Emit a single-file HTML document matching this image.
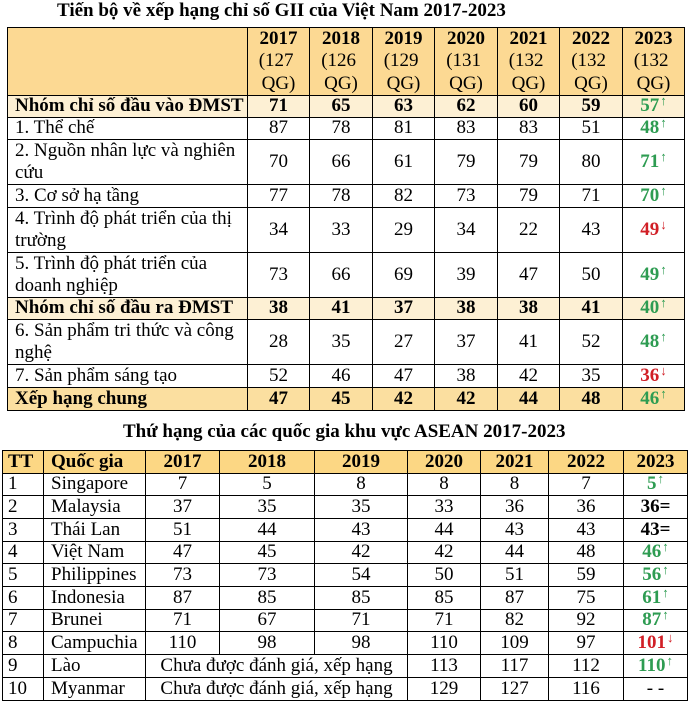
<!DOCTYPE html>
<html>
<head>
<meta charset="utf-8">
<style>
html,body{margin:0;padding:0;background:#fff;}
body{width:689px;height:704px;position:relative;overflow:hidden;font-family:"Liberation Serif","Times New Roman",serif;font-size:19px;color:#000;}
.t{position:absolute;font-weight:bold;white-space:nowrap;line-height:22px;}
.r{position:absolute;left:0;width:689px;}
.c{position:absolute;top:0;height:100%;box-sizing:border-box;border:1px solid #000;display:flex;align-items:center;justify-content:center;white-space:nowrap;line-height:22.5px;text-align:center;}
.l{justify-content:flex-start;text-align:left;padding-left:7px;}
.b{font-weight:bold;}
.h{background:#fcd993;}
.g1{background:#fdf0d4;}
.g2{background:#fbdfa0;}
.h2{background:#fcd784;}
.gr{color:#2e9c52;font-weight:bold;}
.rd{color:#d11f26;font-weight:bold;}
.ar{font-size:13px;font-weight:normal;position:relative;top:-5px;margin-left:1px;}
/* table 1 columns */
.a0{left:7px;width:241px;}
.a1{left:247px;width:63px;}
.a2{left:309px;width:64px;}
.a3{left:372px;width:63px;}
.a4{left:434px;width:64px;}
.a5{left:497px;width:63px;}
.a6{left:559px;width:64px;}
.a7{left:622px;width:63px;}
/* table 2 columns */
.b0{left:2px;width:42px;justify-content:flex-start;padding-left:5px;}
.b1{left:43px;width:103px;justify-content:flex-start;padding-left:7px;}
.b2{left:145px;width:75px;}
.b3{left:219px;width:96px;}
.b4{left:314px;width:94px;}
.b5{left:407px;width:74px;}
.b6{left:480px;width:69px;}
.b7{left:548px;width:76px;}
.b8{left:623px;width:65px;}
.bm{left:145px;width:263px;}
</style>
</head>
<body>

<div class="t" style="left:57px;top:0px;">Tiến bộ về xếp hạng chỉ số GII của Việt Nam 2017-2023</div>

<!-- Table 1 -->
<div class="r" style="top:27px;height:69px;">
  <div class="c a0 h"></div>
  <div class="c a1 h"><div><b>2017</b><br>(127&nbsp;<br>QG)</div></div>
  <div class="c a2 h"><div><b>2018</b><br>(126&nbsp;<br>QG)</div></div>
  <div class="c a3 h"><div><b>2019</b><br>(129&nbsp;<br>QG)</div></div>
  <div class="c a4 h"><div><b>2020</b><br>(131&nbsp;<br>QG)</div></div>
  <div class="c a5 h"><div><b>2021</b><br>(132&nbsp;<br>QG)</div></div>
  <div class="c a6 h"><div><b>2022</b><br>(132&nbsp;<br>QG)</div></div>
  <div class="c a7 h"><div><b>2023</b><br>(132&nbsp;<br>QG)</div></div>
</div>

<div class="r" style="top:95px;height:23px;">
  <div class="c a0 l g1 b">Nhóm chỉ số đầu vào ĐMST</div>
  <div class="c a1 g1 b">71</div><div class="c a2 g1 b">65</div><div class="c a3 g1 b">63</div><div class="c a4 g1 b">62</div><div class="c a5 g1 b">60</div><div class="c a6 g1 b">59</div>
  <div class="c a7 g1"><span class="gr">57</span><span class="ar" style="color:#2e9c52">↑</span></div>
</div>

<div class="r" style="top:117px;height:23px;">
  <div class="c a0 l">1. Thể chế</div>
  <div class="c a1">87</div><div class="c a2">78</div><div class="c a3">81</div><div class="c a4">83</div><div class="c a5">83</div><div class="c a6">51</div>
  <div class="c a7"><span class="gr">48</span><span class="ar" style="color:#2e9c52">↑</span></div>
</div>

<div class="r" style="top:139px;height:46px;">
  <div class="c a0 l"><div>2. Nguồn nhân lực và nghiên<br>cứu</div></div>
  <div class="c a1">70</div><div class="c a2">66</div><div class="c a3">61</div><div class="c a4">79</div><div class="c a5">79</div><div class="c a6">80</div>
  <div class="c a7"><span class="gr">71</span><span class="ar" style="color:#2e9c52">↑</span></div>
</div>

<div class="r" style="top:184px;height:24px;">
  <div class="c a0 l">3. Cơ sở hạ tầng</div>
  <div class="c a1">77</div><div class="c a2">78</div><div class="c a3">82</div><div class="c a4">73</div><div class="c a5">79</div><div class="c a6">71</div>
  <div class="c a7"><span class="gr">70</span><span class="ar" style="color:#2e9c52">↑</span></div>
</div>

<div class="r" style="top:207px;height:46px;">
  <div class="c a0 l"><div>4. Trình độ phát triển của thị<br>trường</div></div>
  <div class="c a1">34</div><div class="c a2">33</div><div class="c a3">29</div><div class="c a4">34</div><div class="c a5">22</div><div class="c a6">43</div>
  <div class="c a7"><span class="rd">49</span><span class="ar" style="color:#d11f26">↓</span></div>
</div>

<div class="r" style="top:252px;height:46px;">
  <div class="c a0 l"><div>5. Trình độ phát triển của<br>doanh nghiệp</div></div>
  <div class="c a1">73</div><div class="c a2">66</div><div class="c a3">69</div><div class="c a4">39</div><div class="c a5">47</div><div class="c a6">50</div>
  <div class="c a7"><span class="gr">49</span><span class="ar" style="color:#2e9c52">↑</span></div>
</div>

<div class="r" style="top:297px;height:23px;">
  <div class="c a0 l g1 b">Nhóm chỉ số đầu ra ĐMST</div>
  <div class="c a1 g1 b">38</div><div class="c a2 g1 b">41</div><div class="c a3 g1 b">37</div><div class="c a4 g1 b">38</div><div class="c a5 g1 b">38</div><div class="c a6 g1 b">41</div>
  <div class="c a7 g1"><span class="gr">40</span><span class="ar" style="color:#2e9c52">↑</span></div>
</div>

<div class="r" style="top:319px;height:46px;">
  <div class="c a0 l"><div>6. Sản phẩm tri thức và công<br>nghệ</div></div>
  <div class="c a1">28</div><div class="c a2">35</div><div class="c a3">27</div><div class="c a4">37</div><div class="c a5">41</div><div class="c a6">52</div>
  <div class="c a7"><span class="gr">48</span><span class="ar" style="color:#2e9c52">↑</span></div>
</div>

<div class="r" style="top:364px;height:24px;">
  <div class="c a0 l">7. Sản phẩm sáng tạo</div>
  <div class="c a1">52</div><div class="c a2">46</div><div class="c a3">47</div><div class="c a4">38</div><div class="c a5">42</div><div class="c a6">35</div>
  <div class="c a7"><span class="rd">36</span><span class="ar" style="color:#d11f26">↓</span></div>
</div>

<div class="r" style="top:387px;height:24px;">
  <div class="c a0 l g2 b">Xếp hạng chung</div>
  <div class="c a1 g2 b">47</div><div class="c a2 g2 b">45</div><div class="c a3 g2 b">42</div><div class="c a4 g2 b">42</div><div class="c a5 g2 b">44</div><div class="c a6 g2 b">48</div>
  <div class="c a7 g2"><span class="gr">46</span><span class="ar" style="color:#2e9c52">↑</span></div>
</div>

<div class="t" style="left:123px;top:421px;">Thứ hạng của các quốc gia khu vực ASEAN 2017-2023</div>

<!-- Table 2 -->
<div class="r" style="top:450px;height:24px;">
  <div class="c b0 h2 b">TT</div><div class="c b1 h2 b">Quốc gia</div>
  <div class="c b2 h2 b">2017</div><div class="c b3 h2 b">2018</div><div class="c b4 h2 b">2019</div><div class="c b5 h2 b">2020</div><div class="c b6 h2 b">2021</div><div class="c b7 h2 b">2022</div><div class="c b8 h2 b">2023</div>
</div>

<div class="r" style="top:473px;height:23px;">
  <div class="c b0">1</div><div class="c b1">Singapore</div>
  <div class="c b2">7</div><div class="c b3">5</div><div class="c b4">8</div><div class="c b5">8</div><div class="c b6">8</div><div class="c b7">7</div>
  <div class="c b8"><span class="gr">5</span><span class="ar" style="color:#2e9c52">↑</span></div>
</div>

<div class="r" style="top:495px;height:24px;">
  <div class="c b0">2</div><div class="c b1">Malaysia</div>
  <div class="c b2">37</div><div class="c b3">35</div><div class="c b4">35</div><div class="c b5">33</div><div class="c b6">36</div><div class="c b7">36</div>
  <div class="c b8 b">36=</div>
</div>

<div class="r" style="top:518px;height:24px;">
  <div class="c b0">3</div><div class="c b1">Thái Lan</div>
  <div class="c b2">51</div><div class="c b3">44</div><div class="c b4">43</div><div class="c b5">44</div><div class="c b6">43</div><div class="c b7">43</div>
  <div class="c b8 b">43=</div>
</div>

<div class="r" style="top:541px;height:23px;">
  <div class="c b0">4</div><div class="c b1">Việt Nam</div>
  <div class="c b2">47</div><div class="c b3">45</div><div class="c b4">42</div><div class="c b5">42</div><div class="c b6">44</div><div class="c b7">48</div>
  <div class="c b8"><span class="gr">46</span><span class="ar" style="color:#2e9c52">↑</span></div>
</div>

<div class="r" style="top:563px;height:24px;">
  <div class="c b0">5</div><div class="c b1">Philippines</div>
  <div class="c b2">73</div><div class="c b3">73</div><div class="c b4">54</div><div class="c b5">50</div><div class="c b6">51</div><div class="c b7">59</div>
  <div class="c b8"><span class="gr">56</span><span class="ar" style="color:#2e9c52">↑</span></div>
</div>

<div class="r" style="top:586px;height:24px;">
  <div class="c b0">6</div><div class="c b1">Indonesia</div>
  <div class="c b2">87</div><div class="c b3">85</div><div class="c b4">85</div><div class="c b5">85</div><div class="c b6">87</div><div class="c b7">75</div>
  <div class="c b8"><span class="gr">61</span><span class="ar" style="color:#2e9c52">↑</span></div>
</div>

<div class="r" style="top:609px;height:23px;">
  <div class="c b0">7</div><div class="c b1">Brunei</div>
  <div class="c b2">71</div><div class="c b3">67</div><div class="c b4">71</div><div class="c b5">71</div><div class="c b6">82</div><div class="c b7">92</div>
  <div class="c b8"><span class="gr">87</span><span class="ar" style="color:#2e9c52">↑</span></div>
</div>

<div class="r" style="top:631px;height:24px;">
  <div class="c b0">8</div><div class="c b1">Campuchia</div>
  <div class="c b2">110</div><div class="c b3">98</div><div class="c b4">98</div><div class="c b5">110</div><div class="c b6">109</div><div class="c b7">97</div>
  <div class="c b8"><span class="rd">101</span><span class="ar" style="color:#d11f26">↓</span></div>
</div>

<div class="r" style="top:654px;height:24px;">
  <div class="c b0">9</div><div class="c b1">Lào</div>
  <div class="c bm">Chưa được đánh giá, xếp hạng</div>
  <div class="c b5">113</div><div class="c b6">117</div><div class="c b7">112</div>
  <div class="c b8"><span class="gr">110</span><span class="ar" style="color:#2e9c52">↑</span></div>
</div>

<div class="r" style="top:677px;height:24px;">
  <div class="c b0">10</div><div class="c b1">Myanmar</div>
  <div class="c bm">Chưa được đánh giá, xếp hạng</div>
  <div class="c b5">129</div><div class="c b6">127</div><div class="c b7">116</div>
  <div class="c b8">- -</div>
</div>

</body>
</html>
